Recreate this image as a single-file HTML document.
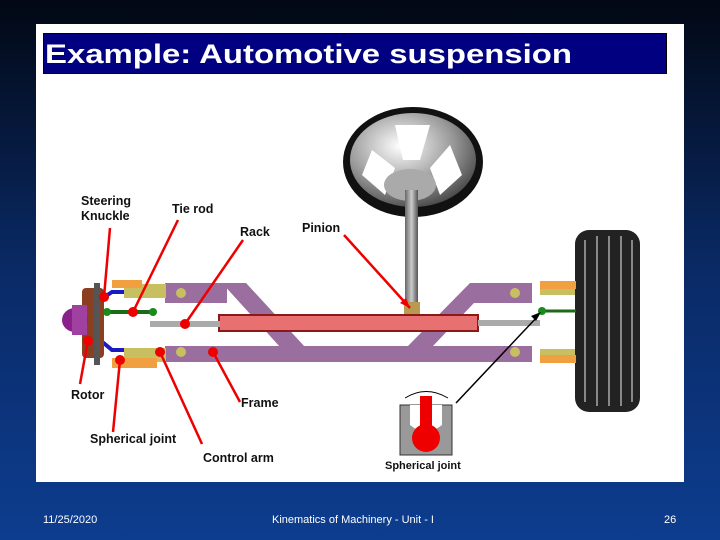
<!DOCTYPE html>
<html><head><style>
body{margin:0;width:720px;height:540px;overflow:hidden;font-family:"Liberation Sans",sans-serif;}
</style></head><body>
<svg width="720" height="540" xmlns="http://www.w3.org/2000/svg" style="display:block">
<defs>
<linearGradient id="bg" x1="0" y1="0" x2="0" y2="1">
<stop offset="0" stop-color="#020814"/><stop offset="0.5" stop-color="#0a2a66"/><stop offset="1" stop-color="#0d3d8f"/></linearGradient>
<radialGradient id="wh" cx="0.4" cy="0.35" r="0.7"><stop offset="0" stop-color="#fff"/><stop offset="0.6" stop-color="#999"/><stop offset="1" stop-color="#444"/></radialGradient>
<linearGradient id="col" x1="0" x2="1"><stop offset="0" stop-color="#666"/><stop offset="0.5" stop-color="#ccc"/><stop offset="1" stop-color="#555"/></linearGradient>
</defs>
<rect width="720" height="540" fill="url(#bg)"/>
<rect x="36" y="24" width="648" height="458" fill="#fff"/>
<rect x="43.5" y="33.5" width="623" height="40" fill="#000080" stroke="#000"/>
<text x="45" y="63" font-size="27" font-weight="bold" fill="#fff" textLength="527" lengthAdjust="spacingAndGlyphs">Example: Automotive suspension</text>
<!-- steering wheel -->
<ellipse cx="413" cy="162" rx="70" ry="55" fill="#111"/>
<ellipse cx="413" cy="160" rx="63" ry="47" fill="url(#wh)"/>
<path d="M372 150 L395 168 L385 195 L362 175Z M450 145 L430 168 L440 195 L462 175Z M395 125 L430 125 L420 160 L403 160Z" fill="#fff"/>
<ellipse cx="410" cy="185" rx="26" ry="16" fill="#aaa"/>
<rect x="405" y="190" width="13" height="118" fill="url(#col)"/>
<rect x="404" y="302" width="16" height="12" fill="#b89a50"/>
<!-- frame -->
<g fill="#9a6e9e">
<rect x="165" y="283" width="62" height="20"/>
<path d="M222 283 L246 283 L305 347 L280 347Z"/>
<rect x="165" y="346" width="367" height="16"/>
<rect x="470" y="283" width="62" height="20"/>
<path d="M470 283 L493 283 L432 347 L407 347Z"/>
</g>
<rect x="219" y="315" width="259" height="16" fill="#e87070" stroke="#8a1a1a" stroke-width="2"/>
<rect x="150" y="321" width="70" height="6" fill="#aaa"/>
<rect x="478" y="320" width="62" height="6" fill="#aaa"/>
<g fill="#c8c060"><circle cx="181" cy="293" r="5"/><circle cx="181" cy="352" r="5"/><circle cx="515" cy="293" r="5"/><circle cx="515" cy="352" r="5"/></g>
<!-- left knuckle parts -->
<rect x="124" y="284" width="42" height="14" fill="#c8c060"/>
<rect x="112" y="280" width="30" height="8" fill="#f0a040"/>
<rect x="124" y="348" width="42" height="14" fill="#c8c060"/>
<rect x="112" y="358" width="45" height="10" fill="#f0a040"/>
<path d="M100 300 L112 292 L124 292" stroke="#1a1ac0" stroke-width="4" fill="none"/>
<path d="M100 340 L112 350 L124 350" stroke="#1a1ac0" stroke-width="4" fill="none"/>
<line x1="107" y1="312" x2="153" y2="312" stroke="#1a6a1a" stroke-width="4"/>
<circle cx="107" cy="312" r="4" fill="#1a8a1a"/><circle cx="153" cy="312" r="4" fill="#1a8a1a"/>
<rect x="82" y="288" width="22" height="70" rx="4" fill="#8a4020"/>
<rect x="94" y="283" width="6" height="82" fill="#555"/>
<ellipse cx="75" cy="320" rx="13" ry="12" fill="#8a208a"/>
<rect x="72" y="305" width="15" height="30" fill="#a040a0"/>
<!-- right wheel -->
<rect x="575" y="230" width="65" height="182" rx="14" fill="#222"/>
<g stroke="#888" stroke-width="2"><line x1="585" y1="240" x2="585" y2="402"/><line x1="597" y1="236" x2="597" y2="406"/><line x1="609" y1="236" x2="609" y2="406"/><line x1="621" y1="236" x2="621" y2="406"/><line x1="632" y1="240" x2="632" y2="402"/></g>
<rect x="540" y="283" width="35" height="12" fill="#c8c060"/>
<rect x="540" y="281" width="36" height="8" fill="#f0a040"/>
<rect x="540" y="349" width="35" height="12" fill="#c8c060"/>
<rect x="540" y="355" width="36" height="8" fill="#f0a040"/>
<line x1="542" y1="311" x2="576" y2="311" stroke="#1a6a1a" stroke-width="3"/>
<circle cx="542" cy="311" r="4" fill="#1a8a1a"/>
<!-- spherical joint inset -->
<path d="M400 405 L452 405 L452 455 L400 455Z" fill="#999" stroke="#333"/>
<path d="M410 405 L410 425 Q426 438 442 425 L442 405Z" fill="#fff"/>
<rect x="420" y="396" width="12" height="30" fill="#e00"/>
<circle cx="426" cy="438" r="14" fill="#e00"/>
<path d="M405 398 Q426 385 448 398" stroke="#000" fill="none"/>
<!-- leader lines -->
<g stroke="#e00" stroke-width="2.5" fill="none">
<line x1="110" y1="228" x2="104" y2="297"/>
<line x1="178" y1="220" x2="133" y2="312"/>
<line x1="243" y1="240" x2="185" y2="324"/>
<line x1="344" y1="235" x2="410" y2="308"/>
<line x1="80" y1="384" x2="88" y2="340"/>
<line x1="113" y1="432" x2="120" y2="360"/>
<line x1="202" y1="444" x2="160" y2="352"/>
<line x1="240" y1="402" x2="213" y2="352"/>
</g>
<g fill="#e00"><circle cx="104" cy="297" r="5"/><circle cx="133" cy="312" r="5"/><circle cx="185" cy="324" r="5"/><circle cx="88" cy="341" r="5"/><circle cx="120" cy="360" r="5"/><circle cx="160" cy="352" r="5"/><circle cx="213" cy="352" r="5"/></g>
<path d="M410 308 L400 303 L406 298Z" fill="#e00"/>
<line x1="456" y1="403" x2="538" y2="316" stroke="#000" stroke-width="1.5"/>
<path d="M541 312 L531 316 L536 321Z" fill="#000"/>
<g font-size="12.5" font-weight="bold" fill="#111">
<text x="81" y="205">Steering</text><text x="81" y="220">Knuckle</text>
<text x="172" y="213">Tie rod</text>
<text x="240" y="236">Rack</text>
<text x="302" y="232">Pinion</text>
<text x="71" y="399">Rotor</text>
<text x="241" y="407">Frame</text>
<text x="90" y="443">Spherical joint</text>
<text x="203" y="462">Control arm</text>
<text x="385" y="469" font-size="11">Spherical joint</text>
</g>
<g font-size="11" fill="#fff">
<text x="43" y="523">11/25/2020</text>
<text x="272" y="523">Kinematics of Machinery - Unit - I</text>
<text x="664" y="523">26</text>
</g>
</svg>
</body></html>
